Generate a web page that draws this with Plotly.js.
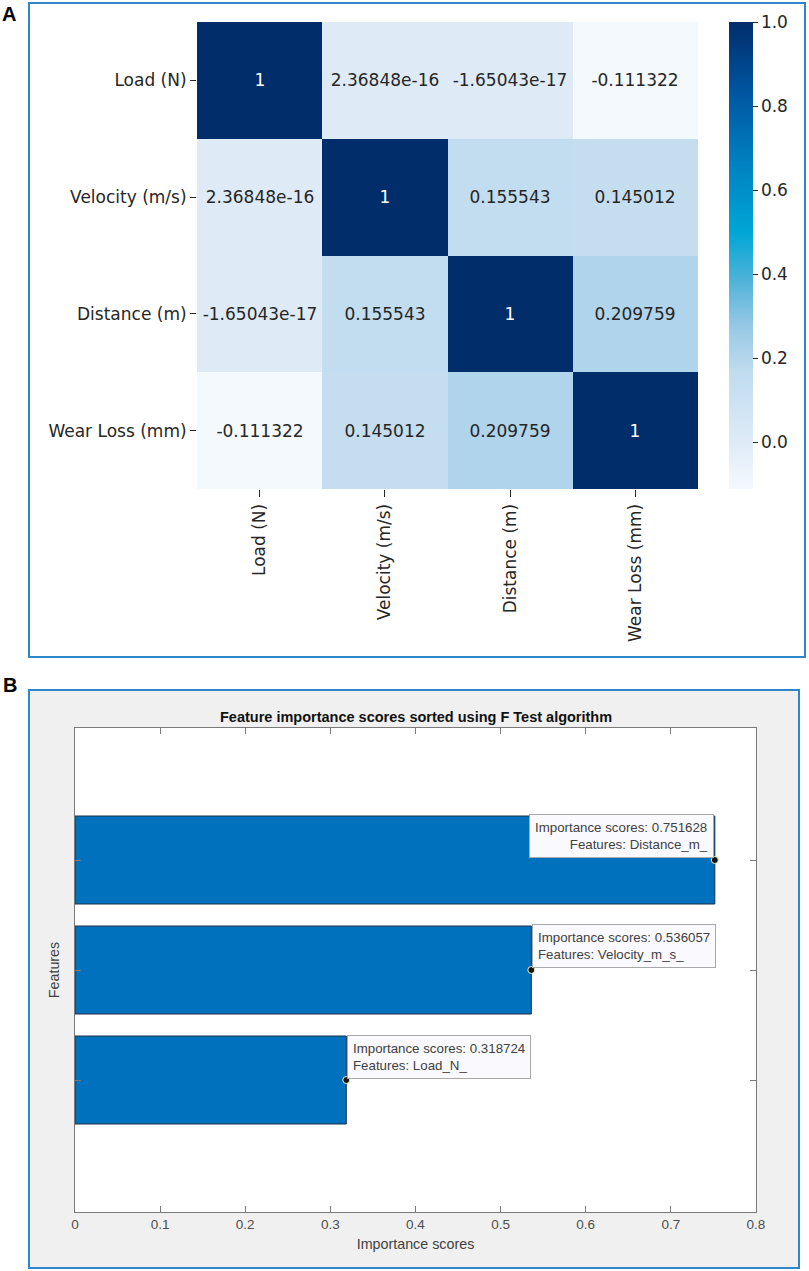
<!DOCTYPE html>
<html><head><meta charset="utf-8">
<script src="https://cdn.plot.ly/plotly-3.0.1.min.js"></script>
<style>html,body{margin:0;padding:0;background:#fff}</style>
</head><body><div id="chart" style="width:809px;height:1271px"></div>
<script>
// ---- Panel A data: correlation matrix ----
const features = ['Load (N)', 'Velocity (m/s)', 'Distance (m)', 'Wear Loss (mm)'];
const corrLoad     = [1, 2.36848e-16, -1.65043e-17, -0.111322];
const corrVelocity = [2.36848e-16, 1, 0.155543, 0.145012];
const corrDistance = [-1.65043e-17, 0.155543, 1, 0.209759];
const corrWear     = [-0.111322, 0.145012, 0.209759, 1];
const colorbarTicks = [0, 0.2, 0.4, 0.6, 0.8, 1.0];

// ---- Panel B data: feature importance ----
const scoreFeatures = ['Load_N_', 'Velocity_m_s_', 'Distance_m_'];
const scores = [0.318724, 0.536057, 0.751628];
const scoreTicks = [0, 0.1, 0.2, 0.3, 0.4, 0.5, 0.6, 0.7, 0.8];

const W = 809, H = 1271;
const px = v => v / W;
const py = v => 1 - v / H;

function fmtG6(v) {
  let s = v.toPrecision(6);
  if (s.indexOf('e') >= 0) {
    let [m, e] = s.split('e');
    if (m.indexOf('.') >= 0) m = m.replace(/0+$/, '').replace(/\.$/, '');
    const sign = e[0] === '-' ? '-' : '+';
    let digits = e.replace(/^[+-]/, '');
    if (digits.length < 2) digits = '0' + digits;
    return m + 'e' + sign + digits;
  }
  if (s.indexOf('.') >= 0) s = s.replace(/0+$/, '').replace(/\.$/, '');
  return s;
}

const Z = [corrLoad, corrVelocity, corrDistance, corrWear];
const zmin = Math.min(...Z.flat());
const zmax = Math.max(...Z.flat());
const txtOff = Z.map((r, i) => r.map((v, j) => i === j ? '' : fmtG6(v)));
const zDiag = Z.map((r, i) => r.map((v, j) => i === j ? v : null));
const txtDiag = Z.map((r, i) => r.map((v, j) => i === j ? fmtG6(v) : ''));

const blues = [
  [0.0, '#f4f9fe'],
  [0.1, '#deebf7'],
  [0.25, '#c0dcef'],
  [0.35, '#96c8e4'],
  [0.45, '#4cb2d8'],
  [0.55, '#00a6d6'],
  [0.7, '#0080c0'],
  [0.85, '#0055a0'],
  [1.0, '#022d6b']
];

const fontA = 'DejaVu Sans, sans-serif';
const fontB = 'Liberation Sans, Arial, sans-serif';

const traces = [
  {
    type: 'heatmap', x: features, y: features, z: Z,
    text: txtOff, texttemplate: '%{text}',
    textfont: {family: fontA, size: 17, color: '#262626'},
    colorscale: blues, zmin: zmin, zmax: zmax,
    hoverinfo: 'skip', xaxis: 'x', yaxis: 'y',
    colorbar: {
      x: px(729), xanchor: 'left', xpad: 0,
      y: py(22), yanchor: 'top', ypad: 0,
      len: 467 / H, lenmode: 'fraction',
      thickness: 24, thicknessmode: 'pixels',
      outlinewidth: 0,
      tickvals: colorbarTicks, tickformat: '.1f',
      ticks: 'outside', ticklen: 5, tickcolor: '#262626',
      tickfont: {family: fontA, size: 17, color: '#262626'}
    }
  },
  {
    type: 'heatmap', x: features, y: features, z: zDiag,
    text: txtDiag, texttemplate: '%{text}',
    textfont: {family: fontA, size: 17, color: '#ffffff'},
    colorscale: blues, zmin: zmin, zmax: zmax, showscale: false,
    hoverinfo: 'skip', xaxis: 'x', yaxis: 'y'
  },
  {
    type: 'bar', orientation: 'h', x: scores, y: scoreFeatures,
    width: 0.8, xaxis: 'x2', yaxis: 'y2',
    marker: {color: '#0072BD', line: {color: '#1c2f46', width: 1}},
    hoverinfo: 'skip'
  },
  {
    type: 'scatter', mode: 'markers', x: scores, y: scoreFeatures,
    xaxis: 'x2', yaxis: 'y2',
    marker: {color: '#151515', size: 7, line: {color: '#f2f0c8', width: 1}},
    hoverinfo: 'skip'
  }
];

const tipAnchors = [
  {xanchor: 'left', align: 'left', xshift: 1, yshift: 1},
  {xanchor: 'left', align: 'left', xshift: 1, yshift: 2},
  {xanchor: 'right', align: 'right', xshift: -1, yshift: 2}
];

const annotations = [
  {text: '<b>A</b>', xref: 'paper', yref: 'paper', x: px(0), y: py(14),
   xanchor: 'left', yanchor: 'middle', showarrow: false,
   font: {family: fontB, size: 20, color: '#000'}},
  {text: '<b>B</b>', xref: 'paper', yref: 'paper', x: px(1), y: py(685),
   xanchor: 'left', yanchor: 'middle', showarrow: false,
   font: {family: fontB, size: 20, color: '#000'}},
  {text: '<b>Feature importance scores sorted using F Test algorithm</b>',
   xref: 'paper', yref: 'paper', x: px(415.5), y: py(717),
   xanchor: 'center', yanchor: 'middle', showarrow: false,
   font: {family: fontB, size: 14.5, color: '#111'}}
];
scores.forEach((s, i) => {
  const a = tipAnchors[i];
  annotations.push({
    text: 'Importance scores: ' + s + '<br>Features: ' + scoreFeatures[i],
    xref: 'x2', yref: 'y2', x: s, y: scoreFeatures[i],
    xanchor: a.xanchor, yanchor: 'bottom', align: a.align,
    xshift: a.xshift, yshift: a.yshift, showarrow: false,
    bgcolor: '#fafafe', bordercolor: '#a8a8a8', borderwidth: 1, borderpad: 5,
    font: {family: fontB, size: 13.3, color: '#404040'}
  });
});

const shapes = [
  {type: 'rect', xref: 'paper', yref: 'paper', x0: px(29), x1: px(805), y0: py(657), y1: py(3),
   line: {color: '#2f87c9', width: 2}, layer: 'above'},
  {type: 'rect', xref: 'paper', yref: 'paper', x0: px(29), x1: px(799), y0: py(1268), y1: py(690),
   fillcolor: '#f0f0f0', line: {color: '#2f87c9', width: 2}, layer: 'below'},
  {type: 'rect', xref: 'paper', yref: 'paper', x0: px(75), x1: px(756), y0: py(1212), y1: py(728),
   fillcolor: '#ffffff', line: {width: 0}, layer: 'below'}
];

const layout = {
  width: W, height: H, autosize: false,
  margin: {l: 0, r: 0, t: 0, b: 0, pad: 0},
  paper_bgcolor: '#ffffff', plot_bgcolor: '#ffffff',
  showlegend: false,
  xaxis: {
    domain: [px(197), px(698)], anchor: 'y', type: 'category',
    tickangle: -90, ticks: 'outside', ticklen: 7, tickcolor: '#262626',
    tickfont: {family: fontA, size: 17, color: '#262626'},
    showgrid: false, zeroline: false, showline: false, automargin: false, fixedrange: true
  },
  yaxis: {
    domain: [py(489), py(22)], anchor: 'x', type: 'category', autorange: 'reversed',
    ticks: 'outside', ticklen: 6, tickcolor: '#262626',
    tickfont: {family: fontA, size: 17, color: '#262626'},
    showgrid: false, zeroline: false, showline: false, automargin: false, fixedrange: true
  },
  xaxis2: {
    domain: [px(75), px(756)], anchor: 'y2', range: [0, 0.8],
    tickvals: scoreTicks, ticks: 'inside', ticklen: 6, tickcolor: '#7a7a7a',
    mirror: 'ticks', showline: true, linecolor: '#7a7a7a', linewidth: 1,
    tickfont: {family: fontB, size: 13.5, color: '#4d4d4d'},
    showgrid: false, zeroline: false, automargin: false, fixedrange: true,
    title: {text: 'Importance scores', font: {family: fontB, size: 14.3, color: '#404040'}, standoff: 7}
  },
  yaxis2: {
    domain: [py(1212), py(728)], anchor: 'x2', type: 'category',
    categoryorder: 'array', categoryarray: scoreFeatures, range: [-1.2, 3.2],
    showticklabels: false, ticks: 'inside', ticklen: 6, tickcolor: '#7a7a7a',
    mirror: 'ticks', showline: true, linecolor: '#7a7a7a', linewidth: 1,
    showgrid: false, zeroline: false, automargin: false, fixedrange: true,
    title: {text: 'Features', font: {family: fontB, size: 14.3, color: '#404040'}, standoff: 10}
  },
  annotations: annotations,
  shapes: shapes
};

Plotly.newPlot('chart', traces, layout, {displayModeBar: false, staticPlot: true});
</script></body></html>
